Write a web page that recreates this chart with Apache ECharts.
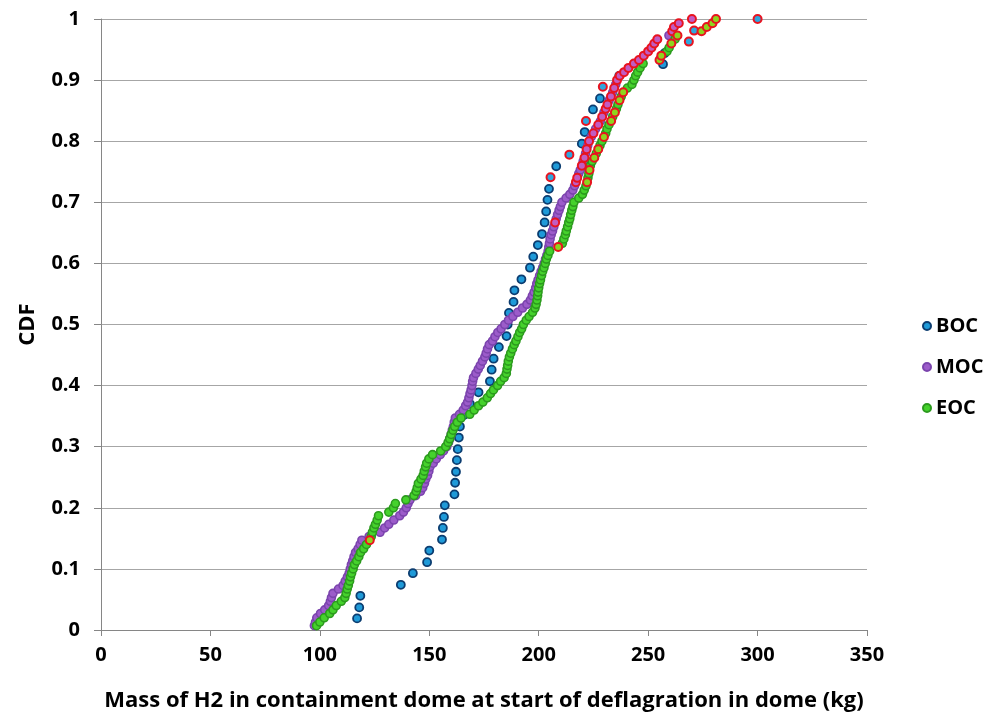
<!DOCTYPE html>
<html>
<head>
<meta charset="utf-8">
<title>CDF of H2 mass in containment dome</title>
<script src="https://cdn.jsdelivr.net/npm/echarts@6/dist/echarts.min.js"></script>
<style>
  html, body { margin: 0; padding: 0; background: #ffffff; }
  #chart { width: 1000px; height: 717px; }
</style>
</head>
<body>
<div id="chart"></div>
<script>
// Mass of H2 (kg) in the dome at start of deflagration, sorted, with empirical CDF levels.
const bocMass = [
  117, 118, 118.5, 137, 142.5, 149, 150, 155.8, 156.2, 156.7,
  157.1, 161.5, 161.8, 162.2, 162.6, 163, 163.5, 164, 165.8, 168.6,
  172.5, 177.7, 178.5, 179.4, 181.8, 185.3, 185.8, 186.4, 188.5, 188.9,
  192.1, 196, 197.5, 199.6, 201.5, 202.7, 203.4, 204, 204.7, 205.4,
  208, 214, 219.7, 221, 221.6, 224.8, 228, 229.3, 236.8, 256.8,
  257.5, 268.6, 271, 300
];
const bocCdf = [
  0.019, 0.037, 0.056, 0.074, 0.093, 0.111, 0.130, 0.148, 0.167, 0.185,
  0.204, 0.222, 0.241, 0.259, 0.278, 0.296, 0.315, 0.333, 0.352, 0.370,
  0.389, 0.407, 0.426, 0.444, 0.463, 0.481, 0.500, 0.519, 0.537, 0.556,
  0.574, 0.593, 0.611, 0.630, 0.648, 0.667, 0.685, 0.704, 0.722, 0.741,
  0.759, 0.778, 0.796, 0.815, 0.833, 0.852, 0.870, 0.889, 0.907, 0.926,
  0.944, 0.963, 0.981, 1.000
];

const mocMass = [
  97.5, 98, 98.6, 100.3, 102.2, 104, 104.8, 105.3, 106, 108.5,
  110.6, 111.6, 112.6, 113.4, 113.9, 114.4, 115, 115.6, 116.3, 117.5,
  118.4, 119.2, 122.5, 127.5, 129.6, 131.5, 133.8, 136.5, 138.2, 139.5,
  140.3, 141.2, 143.8, 146, 147, 147.8, 148.4, 149.2, 149.8, 150.3,
  151.8, 153.2, 155, 156.5, 158, 158.8, 159.4, 160, 160.5, 161,
  161.4, 161.9, 163.8, 165.5, 166.6, 167.5, 168.1, 168.6, 169.1, 169.5,
  169.8, 170.2, 171.3, 172.4, 173.3, 174.3, 175.4, 176, 176.6, 177.4,
  178.9, 180, 181.3, 182.8, 184.5, 186.2, 188.2, 190.4, 192.6, 194.6,
  196.2, 197.1, 197.9, 198.6, 199.1, 199.7, 200.4, 201.1, 201.8, 202.5,
  203.1, 203.7, 204.3, 204.6, 204.9, 205.2, 205.7, 206.3, 206.9, 207.5,
  208, 208.6, 209.3, 209.9, 210.6, 212.5, 214.2, 215.6, 216.4, 217,
  217.6, 218.3, 219, 219.7, 220.3, 220.9, 221.4, 221.9, 222.4, 223,
  224, 225, 226, 227.2, 228.2, 229, 229.8, 230.6, 231.4, 232.2,
  233, 233.8, 234.5, 235.2, 235.8, 237, 239, 241, 243.5, 245.8,
  248, 250, 251.5, 252.8, 254.2, 259.5, 261, 261.8, 264, 270
];

const eocMass = [
  98.5, 100, 102, 104.5, 106, 107.5, 109.8, 111.4, 112, 112.5,
  113, 113.6, 114, 114.5, 115.2, 115.8, 116.8, 117.8, 118.6, 120,
  121.3, 122.8, 123.5, 124, 124.7, 125.4, 126.2, 126.8, 131.5, 133.6,
  134.5, 139.3, 143, 144, 144.5, 145, 146.2, 147.2, 147.7, 148.3,
  148.8, 149.8, 151.5, 155.2, 157.5, 158.6, 159.3, 160, 160.8, 161.6,
  162.8, 164.5, 168.5, 170.5, 172.5, 174.5, 176.5, 178, 179.3, 181.2,
  182.6, 184.2, 185.2, 185.5, 185.8, 186.1, 186.6, 187.2, 188, 188.8,
  189.6, 190.5, 191.3, 192.2, 193, 194.3, 195.6, 197.2, 198.3, 198.8,
  199.2, 199.5, 199.7, 200, 200.4, 200.8, 201.3, 201.8, 202.4, 203,
  203.5, 204.2, 205, 208.9, 210.8, 211.5, 212.2, 212.6, 213.2, 213.7,
  214.2, 214.6, 215.1, 215.6, 216.1, 218.3, 220, 220.8, 221.6, 222.1,
  222.5, 222.9, 223.2, 223.6, 224.4, 225.4, 226.3, 227.2, 228, 228.9,
  229.8, 230.6, 231.2, 232.1, 233.1, 233.8, 234.8, 235.5, 236.2, 236.9,
  237.7, 238.6, 240.5, 242.6, 243.5, 244.3, 245.2, 246.3, 247.7, 255.2,
  256, 258.6, 259.6, 260.6, 262.3, 263.4, 274.4, 276.8, 279.4, 281
];

// CDF levels shared by the two 150-case sets (MOC, EOC)
const cdf150 = [
  0.007, 0.013, 0.020, 0.027, 0.033, 0.040, 0.047, 0.053, 0.060, 0.067,
  0.073, 0.080, 0.087, 0.093, 0.100, 0.107, 0.113, 0.120, 0.127, 0.133,
  0.140, 0.147, 0.153, 0.160, 0.167, 0.173, 0.180, 0.187, 0.193, 0.200,
  0.207, 0.213, 0.220, 0.227, 0.233, 0.240, 0.247, 0.253, 0.260, 0.267,
  0.273, 0.280, 0.287, 0.293, 0.300, 0.307, 0.313, 0.320, 0.327, 0.333,
  0.340, 0.347, 0.353, 0.360, 0.367, 0.373, 0.380, 0.387, 0.393, 0.400,
  0.407, 0.413, 0.420, 0.427, 0.433, 0.440, 0.447, 0.453, 0.460, 0.467,
  0.473, 0.480, 0.487, 0.493, 0.500, 0.507, 0.513, 0.520, 0.527, 0.533,
  0.540, 0.547, 0.553, 0.560, 0.567, 0.573, 0.580, 0.587, 0.593, 0.600,
  0.607, 0.613, 0.620, 0.627, 0.633, 0.640, 0.647, 0.653, 0.660, 0.667,
  0.673, 0.680, 0.687, 0.693, 0.700, 0.707, 0.713, 0.720, 0.727, 0.733,
  0.740, 0.747, 0.753, 0.760, 0.767, 0.773, 0.780, 0.787, 0.793, 0.800,
  0.807, 0.813, 0.820, 0.827, 0.833, 0.840, 0.847, 0.853, 0.860, 0.867,
  0.873, 0.880, 0.887, 0.893, 0.900, 0.907, 0.913, 0.920, 0.927, 0.933,
  0.940, 0.947, 0.953, 0.960, 0.967, 0.973, 0.980, 0.987, 0.993, 1.000
];

// Ranks (1-based) of cases marked with a red outline
const bocMarkedRanks = [40, 42, 45, 48, 52, 53, 54];
const mocMarkedRanks = [100, 110, 111, 114, 116, 118, 120, 122, 124, 126, 128, 129, 131, 133,
  135, 136, 137, 138, 139, 140, 141, 142, 143, 144, 145, 147, 148, 149, 150];
const eocMarkedRanks = [22, 94, 110, 113, 116, 118, 121, 125, 127, 130, 132, 140, 141, 144,
  146, 147, 148, 149, 150];

const xTitle = 'Mass of H2 in containment dome at start of deflagration in dome (kg)';
const yTitle = 'CDF';
const FONT = '"Open Sans", Lato, sans-serif';

function split(mass, cdf, marked) {
  const plain = [], flagged = [];
  mass.forEach((m, i) => {
    (marked.includes(i + 1) ? flagged : plain).push([m, cdf[i]]);
  });
  return { plain, flagged };
}

const boc = split(bocMass, bocCdf, bocMarkedRanks);
const moc = split(mocMass, cdf150, mocMarkedRanks);
const eoc = split(eocMass, cdf150, eocMarkedRanks);

const SIZE = 8;
function scatter(name, data, fill, border, bw, z) {
  return {
    name, type: 'scatter', data, symbol: 'circle', symbolSize: SIZE, z,
    itemStyle: { color: fill, borderColor: border, borderWidth: bw, opacity: 1 },
    emphasis: { disabled: true }
  };
}

const RED = '#e8131f';
const series = [
  scatter('BOC', boc.plain, '#1f9ad8', '#0c3d70', 1.8, 2),
  scatter('MOC', moc.plain, '#9c5cca', '#7b44ad', 1.6, 3),
  scatter('EOC', eoc.plain, '#45d22c', '#2c9a1e', 1.6, 4),
  scatter('BOC marked', boc.flagged, '#2fa6dd', RED, 2, 5),
  scatter('MOC marked', moc.flagged, '#c25cc2', RED, 2, 5),
  scatter('EOC marked', eoc.flagged, '#8fd41e', RED, 2, 5)
];

const axisColor = '#868686';
const labelStyle = { fontFamily: FONT, fontWeight: 'bold', fontSize: 20, color: '#000' };
const titleStyle = { fontFamily: FONT, fontWeight: 'bold', fontSize: 22, color: '#000' };

const chart = echarts.init(document.getElementById('chart'), null, { renderer: 'canvas' });
chart.setOption({
  animation: false,
  backgroundColor: '#ffffff',
  grid: { left: 101, top: 19, width: 766, height: 611, containLabel: false, outerBoundsMode: 'none' },
  legend: {
    data: ['BOC', 'MOC', 'EOC'],
    orient: 'vertical',
    left: 917,
    top: 308,
    icon: 'circle',
    itemWidth: 8,
    itemHeight: 8,
    itemGap: 15,
    textStyle: { fontFamily: FONT, fontWeight: 'bold', fontSize: 20, color: '#000', lineHeight: 26 },
    selectedMode: false
  },
  xAxis: {
    type: 'value', min: 0, max: 350, interval: 50,
    name: xTitle, nameLocation: 'middle', nameGap: 60,
    nameTextStyle: titleStyle,
    axisLine: { show: true, onZero: false, lineStyle: { color: axisColor, width: 1 } },
    axisTick: { show: true, inside: false, length: 6, lineStyle: { color: axisColor } },
    axisLabel: Object.assign({ margin: 15 }, labelStyle),
    splitLine: { show: false }
  },
  yAxis: {
    type: 'value', min: 0, max: 1, interval: 0.1,
    name: yTitle, nameLocation: 'middle', nameGap: 62, nameRotate: 90,
    nameTextStyle: titleStyle,
    axisLine: { show: true, lineStyle: { color: axisColor, width: 1 } },
    axisTick: { show: true, inside: false, length: 7, lineStyle: { color: axisColor } },
    axisLabel: Object.assign({ margin: 21, formatter: v => String(+v.toFixed(1)) }, labelStyle),
    splitLine: { show: true, lineStyle: { color: '#a6a6a6', width: 1 } }
  },
  series
});
</script>
</body>
</html>
